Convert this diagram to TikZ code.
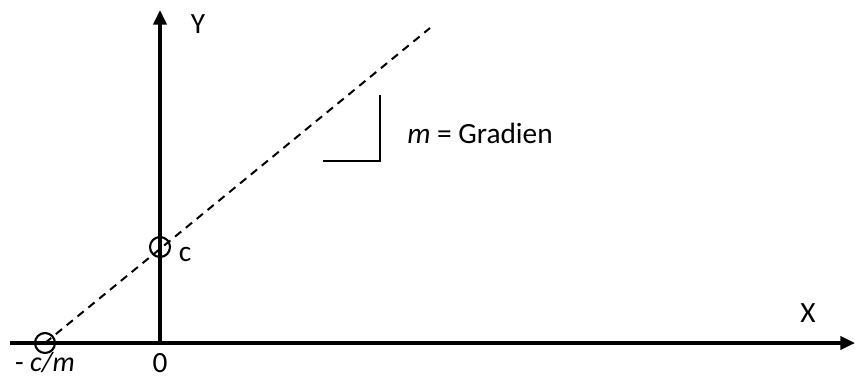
\documentclass[tikz,border=0pt]{standalone}
\usepackage{fontspec}
\setmainfont{Carlito}
\usetikzlibrary{arrows.meta}
\begin{document}
\begin{tikzpicture}[x=0.75pt,y=-0.75pt,
  axis/.style={line width=2.4pt,-{Triangle[length=11pt,width=10pt]}},
  dashline/.style={line width=1.5pt,dash pattern=on 6pt off 4.5pt},
  ring/.style={circle,draw,line width=1.6pt,minimum size=15pt,inner sep=0pt},
  lbl/.style={font=\fontsize{22}{26}\selectfont,inner sep=0pt},
  marker/.style={line width=1.6pt}]
\useasboundingbox (0,0) rectangle (855,379);
% axes
\coordinate (xs) at (10,343);
\coordinate (xe) at (855,343);
\coordinate (ys) at (160,343);
\coordinate (ye) at (160,10);
\draw[axis] (xs) -- (xe);
\draw[axis] (ys) -- (ye);
% dashed line
\coordinate (p0) at (45,343);
\coordinate (pc) at (160,247);
\coordinate (pend) at (430,28);
\draw[dashline] (p0) -- (pend);
% circles
\node[ring] (r0) at (p0) {};
\node[ring] (rc) at (pc) {};
% gradient marker
\coordinate (ga) at (380,95);
\coordinate (gb) at (380,161);
\coordinate (gc) at (323,161);
\draw[marker] (ga) -- (gb) -- (gc);
% labels
\node[lbl] (ylab) at (198,24) {Y};
\node[lbl] (xlab) at (808,313) {X};
\node[lbl] (clab) at (185,254) {c};
\node[lbl] (zero) at (160,363) {0};
\node[lbl,font=\fontsize{21}{25}\selectfont] (cm) at (45,363) {- \textit{c/m}};
\node[lbl,anchor=west] (grad) at (407,133) {\textit{m} = Gradien};
\end{tikzpicture}
\end{document}
